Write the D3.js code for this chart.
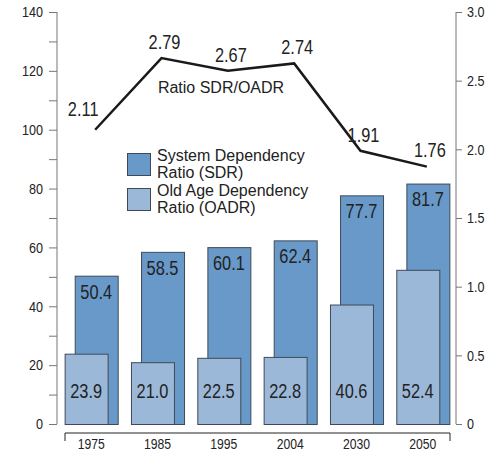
<!DOCTYPE html>
<html>
<head>
<meta charset="utf-8">
<script src="https://cdn.jsdelivr.net/npm/d3@7"></script>
<style>
  body { margin: 0; background: #fff; }
  text { fill: #222; }
</style>
</head>
<body>
<div id="chart"></div>
<script>
// data
let years = ["1975", "1985", "1995", "2004", "2030", "2050"];
let sdr = [50.4, 58.5, 60.1, 62.4, 77.7, 81.7];
let oadr = [23.9, 21.0, 22.5, 22.8, 40.6, 52.4];
let ratio = [2.11, 2.79, 2.67, 2.74, 1.91, 1.76];
let leftTicks = [0, 20, 40, 60, 80, 100, 120, 140];
let rightTicks = [0, 0.5, 1.0, 1.5, 2.0, 2.5, 3.0];

let svgWidth = 500;
let svgHeight = 451;

// no narrow face installed, so squeeze Liberation Sans sideways
let font = "'Liberation Sans', Arial, sans-serif";
let squeeze = 0.84;

let sdrColor = "#6899c9";
let oadrColor = "#9cb8d8";
let edge = "#3e4a58";

let svg = d3.select("#chart")
  .append("svg")
  .attr("width", svgWidth)
  .attr("height", svgHeight);

// condensed label helper
function narrowText(g, px, py, str, size, anchor) {
  return g.append("text")
    .attr("transform", `translate(${px},${py}) scale(${squeeze},1)`)
    .attr("dy", "0.35em")
    .attr("text-anchor", anchor || "middle")
    .style("font-family", font)
    .style("font-size", size + "px")
    .attr("fill", "#1e1e1e")
    .text(str);
}

// scales
let x = d3.scaleBand()
  .domain(years)
  .range([58, 456])
  .paddingInner(0.2)
  .paddingOuter(0.1);

let yLeft = d3.scaleLinear().domain([0, 140]).range([424, 12]);
let yRight = d3.scaleLinear().domain([0, 3]).range([424, 12]);
// the ratio line is drawn on its own stretch, not on the right axis
let yLine = d3.scaleLinear().domain([1.5, 3.0]).range([194, 36]);

let barW = x.bandwidth() * 0.81;
let shift = x.bandwidth() - barW;

// left axis
let leftAxis = d3.axisLeft(yLeft)
  .tickValues(d3.range(0, 141, 10))
  .tickSize(8)
  .tickFormat("");

let gLeft = svg.append("g")
  .attr("transform", "translate(57,0)")
  .call(leftAxis);
gLeft.select(".domain").attr("stroke", "#777").attr("d", "M0,12V424");
gLeft.selectAll(".tick line").attr("stroke", "#777");
leftTicks.forEach(function(t) {
  narrowText(gLeft, -14, yLeft(t), t, 15, "end");
});

// right axis
let rightAxis = d3.axisRight(yRight)
  .tickValues(rightTicks)
  .tickSize(6)
  .tickFormat("");

let gRight = svg.append("g")
  .attr("transform", "translate(456,0)")
  .call(rightAxis);
gRight.select(".domain").attr("stroke", "#777").attr("d", "M0,12V424");
gRight.selectAll(".tick line").attr("stroke", "#777");
rightTicks.forEach(function(t) {
  narrowText(gRight, 11, yRight(t), t === 0 ? "0" : d3.format(".1f")(t), 15, "start");
});

// bottom bracket axis
let bottomAxis = d3.axisBottom(x).tickSize(0).tickFormat("");
let gBottom = svg.append("g")
  .attr("transform", "translate(0,433)")
  .call(bottomAxis);
gBottom.select(".domain")
  .attr("stroke", "#222")
  .attr("d", "M65,8V0H450V8");
years.forEach(function(yr) {
  narrowText(gBottom, x(yr) + x.bandwidth() / 2, 10.5, yr, 14.5);
});

// SDR bars (behind)
svg.append("g").selectAll("rect")
  .data(sdr)
  .enter()
  .append("rect")
  .attr("x", (d, i) => x(years[i]) + shift + 0.5)
  .attr("y", d => yLeft(d) + 0.5)
  .attr("width", barW)
  .attr("height", d => yLeft(0) - yLeft(d))
  .attr("fill", sdrColor)
  .attr("stroke", edge)
  .attr("stroke-width", 1);

// OADR bars (front)
svg.append("g").selectAll("rect")
  .data(oadr)
  .enter()
  .append("rect")
  .attr("x", (d, i) => x(years[i]) + 0.5)
  .attr("y", d => yLeft(d) + 0.5)
  .attr("width", barW)
  .attr("height", d => yLeft(0) - yLeft(d))
  .attr("fill", oadrColor)
  .attr("stroke", edge)
  .attr("stroke-width", 1);

// bar value labels
let valueLabels = svg.append("g");
sdr.forEach(function(d, i) {
  narrowText(valueLabels, x(years[i]) + shift + barW / 2, yLeft(d) + 16, d.toFixed(1), 19.5);
});
oadr.forEach(function(d, i) {
  narrowText(valueLabels, x(years[i]) + barW / 2, yLeft(11), d.toFixed(1), 19.5);
});

// ratio line
let lineX = (d, i) => x(years[i]) + x.bandwidth() / 2 + 4;
let line = d3.line()
  .x(lineX)
  .y(d => yLine(d));

svg.append("path")
  .datum(ratio)
  .attr("d", line)
  .attr("fill", "none")
  .attr("stroke", "#1a1a1a")
  .attr("stroke-width", 2.5)
  .attr("stroke-linejoin", "miter");

let ratioLabels = svg.append("g");
ratio.forEach(function(d, i) {
  narrowText(ratioLabels,
    lineX(d, i) + (i === 0 ? -12 : 3),
    yLine(d) - (i === 0 ? 21 : 16),
    d.toFixed(2), 19.5);
});

svg.append("text")
  .attr("x", 221)
  .attr("y", 87)
  .attr("dy", "0.35em")
  .attr("text-anchor", "middle")
  .style("font-family", font)
  .style("font-size", "16px")
  .attr("fill", "#333")
  .text("Ratio SDR/OADR");

// legend
let legend = [
  { color: sdrColor, lines: ["System Dependency", "Ratio (SDR)"] },
  { color: oadrColor, lines: ["Old Age Dependency", "Ratio (OADR)"] }
];

let lg = svg.append("g").attr("transform", "translate(127,153)");
legend.forEach(function(item, i) {
  lg.append("rect")
    .attr("x", 0.5)
    .attr("y", i * 35 + 0.5)
    .attr("width", 23)
    .attr("height", 22)
    .attr("fill", item.color)
    .attr("stroke", edge);
  item.lines.forEach(function(t, j) {
    lg.append("text")
      .attr("x", 30)
      .attr("y", i * 35 + 2 + j * 17.5)
      .attr("dy", "0.35em")
      .style("font-family", font)
      .style("font-size", "16px")
      .attr("fill", "#333")
      .text(t);
  });
});
</script>
</body>
</html>
